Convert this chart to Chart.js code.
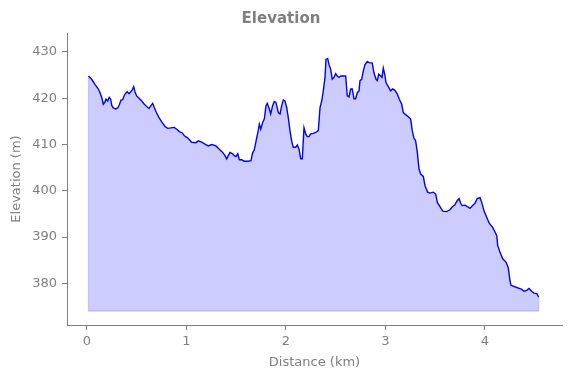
<!DOCTYPE html>
<html>
<head>
<meta charset="utf-8">
<script src="https://cdn.jsdelivr.net/npm/chart.js@4/dist/chart.umd.min.js"></script>
<style>
  html, body { margin: 0; padding: 0; background: #fff; }
  #wrap { width: 571px; height: 378px; }
</style>
</head>
<body>
<div id="wrap"><canvas id="chart" width="571" height="378"></canvas></div>
<script>
// --- Data ---
const DIST_KM = [
  0.015, 0.047, 0.080, 0.114, 0.131, 0.148, 0.164, 0.181, 0.191, 0.208, 0.224, 0.238, 0.248, 0.264, 0.288,
  0.309, 0.325, 0.342, 0.359, 0.372, 0.389, 0.405, 0.422, 0.439, 0.455, 0.469, 0.482, 0.499, 0.523, 0.550,
  0.576, 0.600, 0.623, 0.643, 0.660, 0.676, 0.700, 0.724, 0.751, 0.784, 0.811, 0.844, 0.877, 0.902, 0.928,
  0.958, 0.978, 1.008, 1.052, 1.095, 1.119, 1.153, 1.186, 1.219, 1.253, 1.296, 1.330, 1.364, 1.387, 1.404,
  1.420, 1.437, 1.464, 1.480, 1.497, 1.515, 1.531, 1.555, 1.581, 1.621, 1.648, 1.665, 1.681, 1.706, 1.722,
  1.732, 1.746, 1.766, 1.782, 1.799, 1.812, 1.832, 1.846, 1.866, 1.882, 1.899, 1.923, 1.940, 1.957, 1.973,
  1.990, 2.007, 2.023, 2.040, 2.057, 2.073, 2.097, 2.114, 2.131, 2.148, 2.164, 2.181, 2.198, 2.214, 2.231,
  2.248, 2.274, 2.298, 2.325, 2.342, 2.359, 2.375, 2.392, 2.402, 2.419, 2.432, 2.449, 2.465, 2.482, 2.499,
  2.516, 2.533, 2.550, 2.576, 2.600, 2.616, 2.633, 2.650, 2.666, 2.683, 2.700, 2.717, 2.734, 2.744, 2.761,
  2.777, 2.794, 2.817, 2.837, 2.867, 2.884, 2.905, 2.918, 2.932, 2.952, 2.965, 2.978, 2.992, 3.005, 3.028,
  3.052, 3.072, 3.095, 3.119, 3.139, 3.163, 3.179, 3.206, 3.229, 3.253, 3.269, 3.286, 3.303, 3.320, 3.337,
  3.354, 3.380, 3.397, 3.424, 3.447, 3.480, 3.505, 3.521, 3.548, 3.575, 3.615, 3.648, 3.675, 3.698, 3.722,
  3.739, 3.756, 3.769, 3.799, 3.822, 3.849, 3.876, 3.899, 3.922, 3.950, 3.967, 3.990, 4.017, 4.043, 4.077,
  4.101, 4.118, 4.128, 4.151, 4.178, 4.211, 4.234, 4.251, 4.261, 4.284, 4.319, 4.345, 4.369, 4.392, 4.419,
  4.442, 4.469, 4.492, 4.520, 4.540
];
const ELEV_M = [
  424.8, 424.1, 423.0, 422.0, 421.2, 420.2, 418.7, 419.2, 419.8, 419.4, 420.2, 419.8, 418.5, 417.9, 417.7,
  417.9, 418.6, 419.6, 419.7, 420.5, 421.1, 421.4, 421.0, 421.4, 421.8, 422.5, 421.4, 420.5, 420.0, 419.4,
  418.7, 418.2, 417.8, 418.4, 418.9, 418.0, 416.8, 415.8, 414.9, 413.9, 413.5, 413.6, 413.7, 413.3, 412.8,
  412.5, 411.9, 411.5, 410.5, 410.4, 410.8, 410.5, 410.1, 409.7, 410.0, 409.7, 409.0, 408.3, 407.6, 406.9,
  407.6, 408.3, 408.0, 407.6, 407.4, 408.0, 406.7, 406.7, 406.4, 406.4, 406.5, 408.2, 408.8, 411.5, 413.1,
  414.4, 413.3, 414.8, 415.5, 418.4, 418.9, 417.7, 416.6, 418.4, 419.3, 419.1, 416.9, 416.6, 418.4, 419.6,
  419.4, 418.0, 415.8, 413.0, 410.8, 409.4, 409.4, 409.9, 409.0, 406.9, 406.9, 413.6, 412.3, 411.7, 411.7,
  412.3, 412.4, 412.6, 413.0, 418.0, 419.4, 421.6, 424.5, 428.4, 428.6, 427.3, 426.3, 424.1, 424.5, 425.3,
  424.8, 424.5, 424.8, 424.8, 424.8, 420.5, 420.3, 422.0, 422.0, 419.9, 419.9, 421.2, 421.6, 423.8, 424.1,
  425.9, 427.3, 427.9, 427.7, 427.6, 425.5, 424.1, 423.8, 425.2, 424.8, 424.5, 426.5, 425.2, 423.4, 422.5,
  421.6, 422.0, 421.7, 420.9, 419.8, 418.7, 416.9, 416.4, 416.0, 415.5, 413.0, 411.4, 410.8, 408.3, 404.7,
  403.6, 403.1, 401.1, 399.7, 399.5, 399.7, 399.3, 397.5, 396.6, 395.6, 395.5, 395.9, 396.6, 397.0, 397.9,
  398.3, 397.3, 396.8, 396.9, 396.6, 396.2, 396.8, 397.3, 398.3, 398.5, 397.5, 395.7, 394.3, 393.0, 392.1,
  391.1, 390.3, 388.2, 386.7, 385.3, 384.6, 383.4, 380.6, 379.6, 379.4, 379.1, 378.9, 378.7, 378.3, 378.5,
  378.9, 378.3, 377.9, 377.8, 377.0
];
const FILL_BASE = 374;
const X_TICKS = [0, 1, 2, 3, 4];
const Y_TICKS = [380, 390, 400, 410, 420, 430];

const GREY = '#808080';
const FONT = 'DejaVu Sans';

const profile = DIST_KM.map((x, i) => ({ x: x, y: ELEV_M[i] }));
const last = DIST_KM.length - 1;
// outline of the shaded area (left edge, base, right edge)
const outline = [
  { x: DIST_KM[0], y: ELEV_M[0] },
  { x: DIST_KM[0], y: FILL_BASE },
  { x: DIST_KM[last], y: FILL_BASE },
  { x: DIST_KM[last], y: ELEV_M[last] }
];

new Chart(document.getElementById('chart').getContext('2d'), {
  type: 'line',
  data: {
    datasets: [
      {
        data: profile,
        borderColor: '#0000ff',
        borderWidth: 1.4,
        backgroundColor: 'rgba(0, 0, 255, 0.2)',
        fill: { value: FILL_BASE },
        pointRadius: 0,
        tension: 0,
        order: 1
      },
      {
        data: outline,
        borderColor: 'rgba(0, 0, 255, 0.2)',
        borderWidth: 1.2,
        fill: false,
        pointRadius: 0,
        tension: 0,
        order: 2
      }
    ]
  },
  options: {
    responsive: false,
    animation: false,
    layout: { padding: { left: 0, right: 9, top: 0, bottom: 0 } },
    plugins: {
      legend: { display: false },
      tooltip: { enabled: false },
      title: {
        display: true,
        text: 'Elevation',
        color: GREY,
        font: { family: FONT, size: 15, weight: 'bold' },
        padding: { top: 10, bottom: 5 }
      }
    },
    scales: {
      x: {
        type: 'linear',
        min: -0.201,
        max: 4.774,
        afterBuildTicks: s => { s.ticks = X_TICKS.map(v => ({ value: v })); },
        afterFit: s => { s.height = 53; },
        ticks: { color: GREY, font: { family: FONT, size: 13 }, padding: 4, maxRotation: 0 },
        grid: { drawOnChartArea: false, drawTicks: true, tickLength: 5, color: GREY },
        border: { display: true, color: GREY, width: 1 },
        title: { display: true, text: 'Distance (km)', color: GREY, font: { family: FONT, size: 13 }, padding: { top: 0, bottom: 8 } }
      },
      y: {
        min: 371,
        max: 434.1,
        afterBuildTicks: s => { s.ticks = Y_TICKS.map(v => ({ value: v })); },
        afterFit: s => { s.width = 67; },
        ticks: { color: GREY, font: { family: FONT, size: 13 }, padding: 5 },
        grid: { drawOnChartArea: false, drawTicks: true, tickLength: 5, color: GREY },
        border: { display: true, color: GREY, width: 1 },
        title: { display: true, text: 'Elevation (m)', color: GREY, font: { family: FONT, size: 13 }, padding: { top: 9, bottom: 0 } }
      }
    }
  }
});
</script>
</body>
</html>
